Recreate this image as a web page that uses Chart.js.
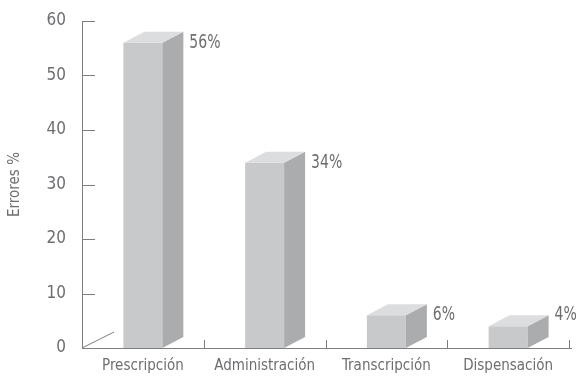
<!DOCTYPE html>
<html><head><meta charset="utf-8">
<script src="https://cdn.jsdelivr.net/npm/chart.js@4"></script>
<style>html,body{margin:0;padding:0;background:#fff}#wrap{width:578px;height:376px}</style>
</head><body><div id="wrap"><canvas id="c" width="578" height="376"></canvas></div>
<script>
const categories = ['Prescripción', 'Administración', 'Transcripción', 'Dispensación'];
const errorValues = [56, 34, 6, 4];
const valueLabels = ['56%', '34%', '6%', '4%'];
const yTicks = [0, 10, 20, 30, 40, 50, 60];

const FONT = "'Liberation Sans Narrow', 'DejaVu Sans Condensed', 'Arial Narrow', sans-serif";
const TEXT = '#6d6e71';
const AXIS = '#7d7e81';
const DX = 21, DY = -11;

const threeD = {
  id: 'threeD',
  beforeDatasetsDraw(chart) {
    const {ctx, chartArea: a} = chart;
    ctx.save();
    ctx.strokeStyle = AXIS; ctx.lineWidth = 1;
    ctx.beginPath(); ctx.moveTo(a.left, a.bottom); ctx.lineTo(a.left + 32, a.bottom - 16); ctx.stroke();
    ctx.restore();
  },
  afterDatasetsDraw(chart) {
    const {ctx, chartArea: a, scales} = chart;
    const meta = chart.getDatasetMeta(0);
    ctx.save();
    meta.data.forEach((bar, i) => {
      const w = bar.width, l = bar.x - w / 2, r = bar.x + w / 2, t = bar.y, b = bar.base;
      ctx.fillStyle = '#abacae';
      ctx.beginPath(); ctx.moveTo(r, t); ctx.lineTo(r + DX, t + DY); ctx.lineTo(r + DX, b + DY); ctx.lineTo(r, b); ctx.closePath(); ctx.fill();
      ctx.fillStyle = '#dcdddf';
      ctx.beginPath(); ctx.moveTo(l, t); ctx.lineTo(l + DX, t + DY); ctx.lineTo(r + DX, t + DY); ctx.lineTo(r, t); ctx.closePath(); ctx.fill();
      ctx.save();
      ctx.fillStyle = TEXT;
      ctx.font = '20px ' + FONT;
      ctx.textBaseline = 'middle'; ctx.textAlign = 'left';
      ctx.translate(r + DX + 6, Math.min(t, b - 33));
      ctx.scale(0.78, 1);
      ctx.fillText(valueLabels[i], 0, 0);
      ctx.restore();
    });
    // axis ticks
    ctx.strokeStyle = AXIS; ctx.lineWidth = 1;
    const ys = scales.y;
    yTicks.forEach(v => {
      if (v === 0) return;
      const y = Math.round(ys.getPixelForValue(v)) + 0.5;
      ctx.beginPath(); ctx.moveTo(a.left, y); ctx.lineTo(a.left + 13, y); ctx.stroke();
    });
    const step = (a.right - a.left) / categories.length;
    for (let i = 1; i <= categories.length; i++) {
      const x = Math.round(a.left + step * i) + 0.5;
      ctx.beginPath(); ctx.moveTo(x, a.bottom); ctx.lineTo(x, a.bottom - 8); ctx.stroke();
    }
    ctx.beginPath(); ctx.moveTo(a.right, a.bottom + 0.5); ctx.lineTo(a.right + 3, a.bottom + 0.5); ctx.stroke();
    ctx.restore();
  }
};

new Chart(document.getElementById('c'), {
  type: 'bar',
  data: {
    labels: categories,
    datasets: [{
      data: errorValues,
      backgroundColor: '#c8c9cb',
      borderWidth: 0,
      categoryPercentage: 1,
      barPercentage: 0.32
    }]
  },
  options: {
    responsive: false,
    animation: false,
    layout: {padding: {top: 21, right: 9, left: 0, bottom: 0}},
    plugins: {legend: {display: false}, tooltip: {enabled: false}},
    scales: {
      x: {
        grid: {display: false, drawTicks: false},
        border: {display: true, color: AXIS, width: 1},
        ticks: {color: TEXT, font: {family: FONT, size: 15}, padding: 9, maxRotation: 0},
        afterFit(s) { s.height = 28; s.paddingLeft = 0; s.paddingRight = 0; }
      },
      y: {
        min: 0, max: 60,
        afterBuildTicks(s) { s.ticks = yTicks.map(v => ({value: v})); },
        grid: {display: false, drawTicks: false},
        border: {display: true, color: AXIS, width: 1},
        ticks: {color: TEXT, font: {family: FONT, size: 17}, padding: 16},
        title: {display: true, text: 'Errores %', color: TEXT, font: {family: FONT, size: 15}, padding: {top: 6, bottom: 0}},
        afterFit(s) { s.width = 82; s.paddingTop = 0; s.paddingBottom = 0; }
      }
    }
  },
  plugins: [threeD]
});
</script></body></html>
